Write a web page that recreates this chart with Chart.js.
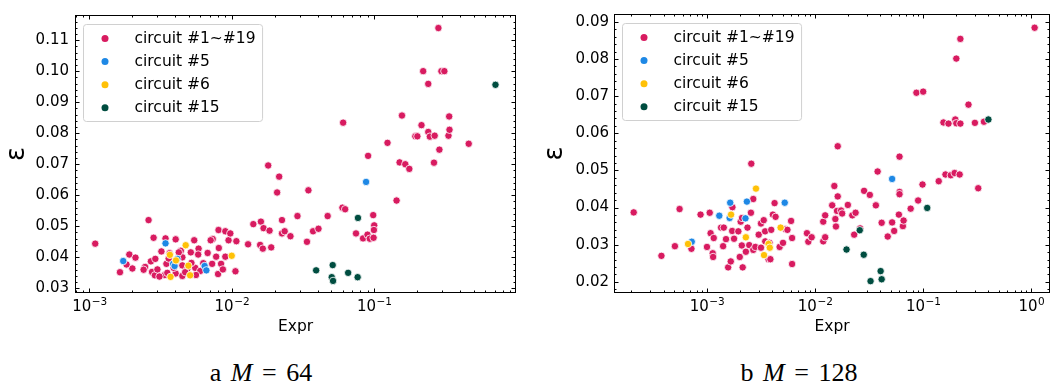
<!DOCTYPE html>
<html>
<head>
<meta charset="utf-8">
<script src="https://cdn.jsdelivr.net/npm/chart.js@4.4.0/dist/chart.umd.min.js"></script>
<style>
  html, body { margin: 0; padding: 0; background: #fff; }
  body { width: 1055px; height: 391px; position: relative; overflow: hidden; }
  .panel { position: absolute; top: 0; }
  .caption {
    position: absolute; top: 360px; transform: translateX(-50%);
    font-family: 'Liberation Serif', serif; font-size: 26px; line-height: 26px;
    word-spacing: 3px; white-space: nowrap; color: #000;
  }
</style>
</head>
<body>
<div class="panel" style="left:0"><canvas id="m64" width="525" height="340"></canvas></div>
<div class="panel" style="left:525px"><canvas id="m128" width="530" height="340"></canvas></div>
<div class="caption" style="left:261px">a <i>M</i> = 64</div>
<div class="caption" style="left:799px">b <i>M</i> = 128</div>
<script>
const seriesLabels = ['circuit #1~#19', 'circuit #5', 'circuit #6', 'circuit #15'];
const seriesColors = ['#D81B60', '#1E88E5', '#FFC107', '#004D40'];

// M = 64
const m64All = [
  [0.001097,0.0444],[0.001637,0.0352],[0.001905,0.0409],[0.0020,0.0364],[0.00182,0.0377],[0.002104,0.0399],
  [0.00246,0.0369],[0.0026,0.0520],[0.0027,0.0387],[0.00282,0.0463],[0.0029,0.0395],[0.00275,0.0353],
  [0.00288,0.0342],[0.0030,0.0361],[0.0032,0.0419],[0.00342,0.0461],[0.00347,0.0379],[0.00338,0.0343],
  [0.00365,0.0413],[0.00403,0.0458],[0.00403,0.0348],[0.00438,0.0421],[0.00449,0.0374],[0.00449,0.0340],
  [0.00449,0.0400],[0.00488,0.0364],[0.00515,0.0416],[0.00544,0.0455],[0.00553,0.0366],[0.00584,0.0428],
  [0.0060,0.0356],[0.0058,0.0409],[0.00676,0.0414],[0.00734,0.0459],[0.00727,0.0379],[0.00776,0.0402],
  [0.00806,0.0488],[0.0081,0.0430],[0.0080,0.0346],[0.0084,0.0379],[0.00865,0.0361],[0.0090,0.0484],
  [0.0090,0.0402],[0.00948,0.0455],[0.00975,0.0477],[0.0106,0.0355],[0.01076,0.0452],
  [0.00352,0.0350],[0.00424,0.0416],[0.0031,0.0338],[0.0039,0.0366],[0.0047,0.0352],[0.0036,0.0396],
  [0.0063,0.0381],[0.0052,0.0382],[0.0041,0.0392],[0.0056,0.0343],[0.0071,0.0455],[0.0024,0.0360],
  [0.0130,0.0442],[0.01415,0.0507],[0.0158,0.0440],[0.0160,0.0515],[0.0165,0.0428],[0.0167,0.0494],
  [0.0180,0.0696],[0.0184,0.0486],[0.0189,0.0432],[0.0208,0.0609],[0.0215,0.0660],[0.0225,0.0520],
  [0.0225,0.0477],[0.0235,0.0484],[0.0258,0.0468],[0.0289,0.0533],[0.0337,0.0450],[0.0345,0.0616],
  [0.0372,0.0484],[0.0406,0.0492],[0.0471,0.0533],[0.0605,0.0834],[0.0598,0.0560],[0.0625,0.0555],
  [0.0745,0.0477],[0.0835,0.0461],[0.0897,0.0473],[0.0906,0.0727],[0.0931,0.0460],[0.0984,0.0536],
  [0.1000,0.0503],[0.0995,0.0488],[0.0990,0.0463],[0.124,0.0769],[0.1436,0.0583],[0.1508,0.0706],
  [0.1567,0.0857],[0.1653,0.0700],[0.1765,0.0685],[0.1946,0.0790],[0.201,0.0790],[0.2149,0.0826],
  [0.2208,0.1000],[0.2397,0.0959],[0.2397,0.0804],[0.246,0.0789],[0.263,0.0705],[0.266,0.0792],
  [0.2825,0.1139],[0.287,0.0747],[0.2965,0.1000],[0.311,0.1000],[0.3324,0.0792],[0.3363,0.0854],
  [0.338,0.0811],[0.4613,0.0766]
];
const m64C5 = [[0.001726,0.0388],[0.00342,0.0445],[0.00387,0.0379],[0.00396,0.0372],[0.00414,0.0395],
  [0.00644,0.0372],[0.00662,0.0358],[0.0877,0.0643]];
const m64C6 = [[0.00367,0.0408],[0.00371,0.0337],[0.00405,0.0390],[0.00474,0.0439],[0.00495,0.0373],
  [0.00509,0.0342],[0.00998,0.0405]];
const m64C15 = [[0.0391,0.0358],[0.0503,0.0336],[0.0511,0.0375],[0.0514,0.0324],[0.0656,0.0350],
  [0.0765,0.0336],[0.0769,0.0527],[0.711,0.0956]];
const m64XTicks = [1e-3, 1e-2, 1e-1];
const m64XExps = ['−3', '−2', '−1'];
const m64YTicks = [0.03, 0.04, 0.05, 0.06, 0.07, 0.08, 0.09, 0.10, 0.11];
const m64YLabels = ['0.03', '0.04', '0.05', '0.06', '0.07', '0.08', '0.09', '0.10', '0.11'];

// M = 128
const m128All = [
  [0.00021,0.0387],[0.000379,0.0270],[0.000505,0.0296],[0.000558,0.0396],[0.000718,0.0289],[0.000872,0.0381],
  [0.0010,0.0294],[0.00106,0.0386],[0.00108,0.0331],[0.00113,0.0277],[0.00114,0.0267],[0.001155,0.0318],
  [0.00135,0.0346],[0.00143,0.0346],[0.00141,0.0296],[0.0015,0.0315],[0.00157,0.0239],[0.00166,0.0255],
  [0.00171,0.0337],[0.00172,0.0401],[0.00178,0.0316],[0.00195,0.0336],[0.00201,0.0267],[0.00205,0.0362],
  [0.00211,0.0372],[0.00210,0.0298],[0.00214,0.0239],[0.00229,0.0281],[0.00237,0.0346],[0.00246,0.0299],
  [0.00255,0.0386],[0.00257,0.0518],[0.00268,0.0423],[0.00268,0.0286],[0.0028,0.0294],[0.00301,0.0327],
  [0.00316,0.0357],[0.00316,0.0292],[0.00335,0.0366],[0.00345,0.0336],[0.00346,0.0309],[0.00371,0.0261],
  [0.00379,0.0305],[0.00393,0.0340],[0.00386,0.0261],[0.00407,0.0381],[0.00422,0.0412],[0.00431,0.0375],
  [0.00470,0.0294],[0.00505,0.0305],[0.00531,0.0342],[0.00555,0.0340],[0.0060,0.0364],[0.00613,0.0318],
  [0.00613,0.0248],[0.00841,0.0331],[0.00866,0.0308],[0.0093,0.0320],[0.0119,0.0309],[0.0119,0.0362],
  [0.0124,0.0379],[0.0124,0.0320],[0.0144,0.0406],[0.01507,0.0458],[0.0154,0.0369],[0.0156,0.0349],
  [0.01596,0.0391],[0.0162,0.0565],[0.0162,0.0430],[0.0174,0.0392],[0.0178,0.0384],[0.0201,0.0407],
  [0.0221,0.0379],[0.0230,0.0327],[0.0237,0.0386],[0.0261,0.0344],[0.0284,0.0445],[0.0321,0.0434],
  [0.0365,0.0406],[0.0379,0.0497],[0.0413,0.0359],[0.0470,0.0322],[0.0516,0.0360],[0.0539,0.0337],
  [0.0596,0.0381],[0.0604,0.0537],[0.0604,0.0442],[0.0604,0.0436],[0.0649,0.0350],[0.0659,0.0365],
  [0.0766,0.0397],[0.0866,0.0709],[0.0898,0.0419],[0.1000,0.0712],[0.0986,0.0462],[0.1393,0.0471],
  [0.154,0.0629],[0.1608,0.0489],[0.1714,0.0626],[0.180,0.0487],[0.1953,0.0493],[0.1982,0.0637],
  [0.2025,0.0801],[0.2025,0.0627],[0.2175,0.0489],[0.2208,0.0854],[0.2208,0.0626],[0.2625,0.0677],
  [0.3009,0.0628],[0.3231,0.0452],[0.365,0.0631],[1.074,0.0884]
];
const m128C5 = [[0.000723,0.0308],[0.0013,0.0378],[0.00162,0.0372],[0.00164,0.0413],[0.00227,0.0371],
  [0.00234,0.0416],[0.00524,0.0413],[0.0516,0.0477]];
const m128C6 = [[0.000668,0.0302],[0.00167,0.0381],[0.00229,0.0320],[0.00284,0.0451],[0.00337,0.0272],
  [0.00371,0.0302],[0.00381,0.0292],[0.0048,0.0346]];
const m128C15 = [[0.01954,0.0287],[0.0259,0.0339],[0.0282,0.0273],[0.0326,0.0202],[0.0404,0.0229],
  [0.0413,0.0207],[0.109,0.0399],[0.401,0.0637]];
const m128XTicks = [1e-3, 1e-2, 1e-1, 1];
const m128XExps = ['−3', '−2', '−1', '0'];
const m128YTicks = [0.02, 0.03, 0.04, 0.05, 0.06, 0.07, 0.08, 0.09];
const m128YLabels = ['0.02', '0.03', '0.04', '0.05', '0.06', '0.07', '0.08', '0.09'];

const FONT = "'DejaVu Sans', sans-serif";

// frame, inward ticks on all four sides, 10^n labels and the boxed legend
const frameTicks = {
  id: 'frameTicks',
  afterDatasetsDraw(chart, args, opts) {
    const {ctx, chartArea: a, scales: {x, y}} = chart;
    ctx.save();
    ctx.strokeStyle = '#000';
    ctx.lineWidth = 1;
    ctx.beginPath();
    const seg = (x1, y1, x2, y2) => { ctx.moveTo(x1, y1); ctx.lineTo(x2, y2); };
    const xTick = (v, len) => {
      const px = Math.round(x.getPixelForValue(v)) + 0.5;
      if (px < a.left || px > a.right) return;
      seg(px, a.bottom, px, a.bottom - len);
      seg(px, a.top, px, a.top + len);
    };
    const yTick = (v, len) => {
      const py = Math.round(y.getPixelForValue(v)) + 0.5;
      if (py < a.top || py > a.bottom) return;
      seg(a.left, py, a.left + len, py);
      seg(a.right, py, a.right - len, py);
    };
    const lo = Math.floor(Math.log10(x.min)), hi = Math.ceil(Math.log10(x.max));
    for (let d = lo; d <= hi; d++) {
      for (let k = 2; k <= 9; k++) {
        const v = k * Math.pow(10, d);
        if (v > x.min && v < x.max) xTick(v, 2.5);
      }
    }
    opts.xTicks.forEach(v => xTick(v, 4.5));
    const step = (opts.yTicks[1] - opts.yTicks[0]) / 5;
    for (let k = -5; k < opts.yTicks.length * 5 + 5; k++) {
      if (k % 5 === 0) continue;
      const v = opts.yTicks[0] + k * step;
      if (v > y.min && v < y.max) yTick(v, 2.5);
    }
    opts.yTicks.forEach(v => yTick(v, 4.5));
    ctx.stroke();
    ctx.strokeRect(a.left + 0.5, a.top + 0.5, a.right - a.left - 1, a.bottom - a.top - 1);

    // x tick labels as 10 with a raised exponent
    ctx.fillStyle = '#000';
    ctx.textBaseline = 'alphabetic';
    ctx.textAlign = 'left';
    opts.xTicks.forEach((v, i) => {
      const px = x.getPixelForValue(v);
      ctx.font = '15px ' + FONT;
      const w1 = ctx.measureText('10').width;
      ctx.font = '10.5px ' + FONT;
      const w2 = ctx.measureText(opts.xExps[i]).width;
      const x0 = px - (w1 + w2) / 2;
      ctx.font = '15px ' + FONT;
      ctx.fillText('10', x0, a.bottom + 18);
      ctx.font = '10.5px ' + FONT;
      ctx.fillText(opts.xExps[i], x0 + w1 + 0.5, a.bottom + 12);
    });

    // legend
    ctx.font = '15.5px ' + FONT;
    const widest = Math.max(...seriesLabels.map(t => ctx.measureText(t).width));
    const bx = a.left + 8.5, by = a.top + 9.5, bw = 51 + widest + 7, bh = 97, r = 3;
    ctx.beginPath();
    ctx.moveTo(bx + r, by);
    ctx.lineTo(bx + bw - r, by); ctx.arcTo(bx + bw, by, bx + bw, by + r, r);
    ctx.lineTo(bx + bw, by + bh - r); ctx.arcTo(bx + bw, by + bh, bx + bw - r, by + bh, r);
    ctx.lineTo(bx + r, by + bh); ctx.arcTo(bx, by + bh, bx, by + bh - r, r);
    ctx.lineTo(bx, by + r); ctx.arcTo(bx, by, bx + r, by, r);
    ctx.closePath();
    ctx.fillStyle = 'rgba(255,255,255,0.85)';
    ctx.fill();
    ctx.strokeStyle = '#d0d0d0';
    ctx.stroke();
    ctx.textBaseline = 'middle';
    seriesLabels.forEach((t, i) => {
      const ry = by + 14 + i * 23.1;
      ctx.beginPath();
      ctx.arc(bx + 21.5, ry, 3.5, 0, Math.PI * 2);
      ctx.fillStyle = seriesColors[i];
      ctx.fill();
      ctx.fillStyle = '#000';
      ctx.fillText(t, bx + 51, ry);
    });
    ctx.restore();
  }
};

function buildChart(id, p) {
  return new Chart(document.getElementById(id), {
    type: 'scatter',
    data: {
      datasets: p.series.map((pts, i) => ({
        label: seriesLabels[i],
        data: pts.map(([x, y]) => ({x, y})),
        backgroundColor: seriesColors[i],
        borderColor: '#ffffff',
        borderWidth: 0.8,
        pointRadius: 3.7,
        pointHoverRadius: 3.7,
        order: seriesLabels.length - i
      }))
    },
    options: {
      responsive: false,
      animation: false,
      events: [],
      layout: { padding: p.pad },
      plugins: {
        legend: { display: false },
        tooltip: { enabled: false },
        frameTicks: { xTicks: p.xTicks, xExps: p.xExps, yTicks: p.yTicks }
      },
      scales: {
        x: {
          type: 'logarithmic',
          min: p.xMin, max: p.xMax,
          afterBuildTicks: s => { s.ticks = p.xTicks.map(v => ({value: v})); },
          afterFit: s => { s.height = 47; },
          grid: { display: false, drawTicks: false },
          border: { display: false },
          ticks: { display: false },
          title: {
            display: true, text: 'Expr', color: '#000',
            font: { family: FONT, size: 15.5 },
            padding: { top: 0, bottom: 4 }
          }
        },
        y: {
          min: p.yMin, max: p.yMax,
          afterBuildTicks: s => { s.ticks = p.yTicks.map(v => ({value: v})); },
          afterFit: s => { s.width = p.yWidth; },
          grid: { display: false, drawTicks: false },
          border: { display: false },
          ticks: {
            autoSkip: false, padding: p.yPad, color: '#000',
            font: { family: FONT, size: 15 },
            callback: (v, i) => p.yLabels[i]
          },
          title: {
            display: true, text: 'ε', color: '#000',
            font: { family: FONT, size: 26 },
            padding: { top: p.yTitlePad, bottom: 0 }
          }
        }
      }
    },
    plugins: [frameTicks]
  });
}

buildChart('m64', {
  series: [m64All, m64C5, m64C6, m64C15],
  xTicks: m64XTicks, xExps: m64XExps, yTicks: m64YTicks, yLabels: m64YLabels,
  xMin: 7.91e-4, xMax: 0.991, yMin: 0.0285, yMax: 0.1181,
  pad: { left: 0, top: 7, right: 9, bottom: 0 },
  yWidth: 75, yPad: 6, yTitlePad: 2
});

buildChart('m128', {
  series: [m128All, m128C5, m128C6, m128C15],
  xTicks: m128XTicks, xExps: m128XExps, yTicks: m128YTicks, yLabels: m128YLabels,
  xMin: 1.38e-4, xMax: 1.49, yMin: 0.0170, yMax: 0.0921,
  pad: { left: 0, top: 7, right: 5, bottom: 0 },
  yWidth: 89, yPad: 5, yTitlePad: 15
});
</script>
</body>
</html>
